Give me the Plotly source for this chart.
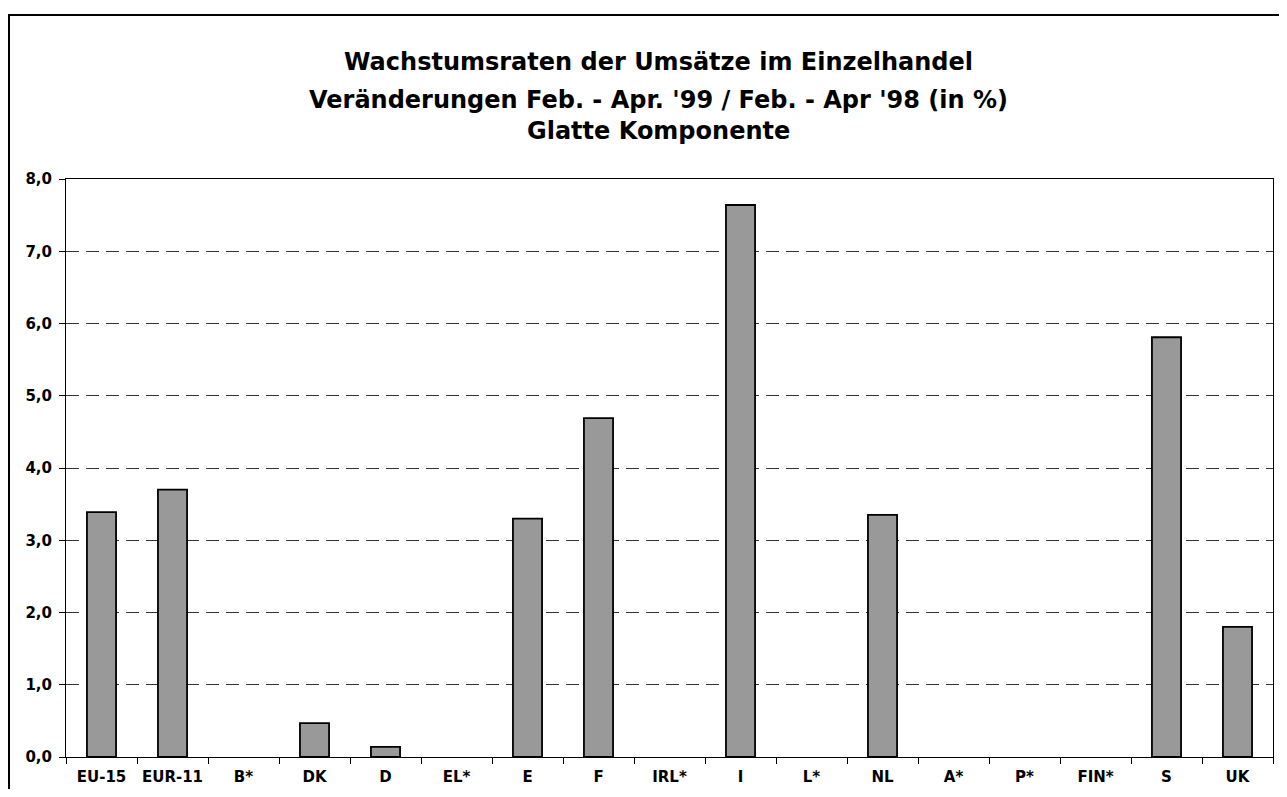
import plotly.graph_objects as go

categories = ["EU-15", "EUR-11", "B*", "DK", "D", "EL*", "E", "F", "IRL*", "I",
              "L*", "NL", "A*", "P*", "FIN*", "S", "UK"]
values = [3.39, 3.70, None, 0.47, 0.14, None, 3.30, 4.69, None, 7.64,
          None, 3.35, None, None, None, 5.81, 1.80]
y_ticks = [0, 1, 2, 3, 4, 5, 6, 7, 8]
title_lines = [
    "Wachstumsraten der Umsätze im Einzelhandel",
    "Veränderungen Feb. - Apr. '99 / Feb. - Apr '98 (in %)",
    "Glatte Komponente",
]

# page body has an 8px margin; figure coords = screen coords - 8
W, H = 1271, 781
L, R, T, B = 58, 6, 171, 32
pw, ph = W - L - R, H - T - B

fig = go.Figure(go.Bar(
    x=categories, y=values, width=0.41,
    marker=dict(color="#999999", line=dict(color="black", width=1.8)),
))

font = "DejaVu Sans, Liberation Sans, Arial, sans-serif"

fig.update_layout(
    width=W, height=H,
    margin=dict(l=L, r=R, t=T, b=B, autoexpand=False),
    paper_bgcolor="white", plot_bgcolor="white",
    separators=",.",
    showlegend=False,
    font=dict(family=font, color="black"),
)
fig.update_xaxes(
    automargin=False,
    showline=True, linecolor="black", linewidth=1, mirror=True,
    ticks="outside", ticklen=6, tickcolor="black", tickson="boundaries",
    tickfont=dict(family=font, size=15, color="black", weight="bold"),
    ticklabelstandoff=6,
    showgrid=False,
)
fig.update_yaxes(
    automargin=False,
    range=[0, 8], tickvals=y_ticks, tickformat=".1f",
    showline=True, linecolor="black", linewidth=1, mirror=True,
    ticks="outside", ticklen=6, tickcolor="black",
    tickfont=dict(family=font, size=15, color="black", weight="bold"),
    ticklabelstandoff=4,
    showgrid=True, gridcolor="#333333", gridwidth=1, griddash="13px,7px",
    zeroline=False,
)

title_y = [54, 92, 123]
for txt, py in zip(title_lines, title_y):
    fig.add_annotation(
        text="<b>" + txt + "</b>", xref="paper", yref="paper",
        x=(650 - L) / pw, y=(H - B - py) / ph, showarrow=False,
        xanchor="center", yanchor="middle",
        font=dict(family=font, size=24, color="black"),
    )

# outer frame
fig.add_shape(
    type="rect", xref="paper", yref="paper",
    x0=(1 - L) / pw, x1=(W + 10 - L) / pw,
    y0=(H - B - (H + 10)) / ph, y1=(H - B - 7) / ph,
    line=dict(color="black", width=2), fillcolor="rgba(0,0,0,0)", layer="below",
)

fig.write_html("out.html")
